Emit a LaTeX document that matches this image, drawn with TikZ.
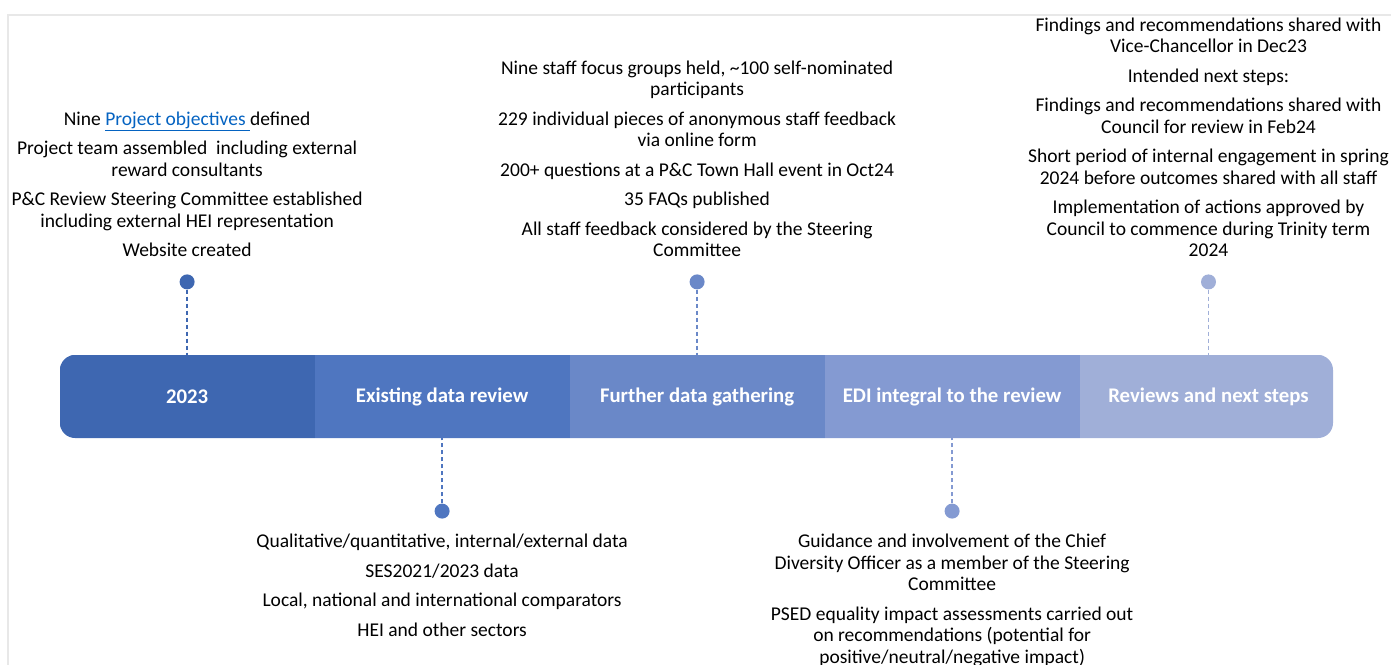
\documentclass[tikz,border=0pt]{standalone}
\usepackage{fontspec}
\setmainfont{Carlito}
\usepackage{tikz}
\usetikzlibrary{positioning,calc}
\usepackage{xcolor}

\definecolor{phaseA}{RGB}{62,103,177}
\definecolor{phaseB}{RGB}{79,118,192}
\definecolor{phaseC}{RGB}{106,136,200}
\definecolor{phaseD}{RGB}{132,154,210}
\definecolor{phaseE}{RGB}{160,175,216}
\definecolor{linkblue}{RGB}{5,99,193}
\definecolor{framegray}{RGB}{232,232,232}

\begin{document}
\begin{tikzpicture}[x=1pt, y=-1pt,
    phase/.style={rectangle, minimum width=254.2pt, minimum height=83pt, inner sep=0pt,
        fill=#1, draw=#1, line width=0.8pt,
        text=white, font=\fontsize{20.8}{24}\selectfont\bfseries},
    dot/.style={circle, inner sep=0pt, minimum size=15pt},
    stem/.style={dash pattern=on 4pt off 3pt, line width=1.4pt},
    note/.style={align=center, inner sep=0pt, font=\fontsize{19.5}{21.5}\selectfont}]

    \useasboundingbox (0,0) rectangle (1391,664);

    % =========================================================================
    % Frame
    % =========================================================================
    \draw[framegray, line width=1.5pt] (8,700) -- (8,15) -- (1400,15);

    % =========================================================================
    % Timeline bar
    % =========================================================================
    \begin{scope}
        \clip[rounded corners=15pt] (60,355) rectangle (1333,438);
        \node[phase=phaseA] (p1) at (187.1,396.5) {2023};
        \node[phase=phaseB, right=0pt of p1] (p2) {Existing data review};
        \node[phase=phaseC, right=0pt of p2] (p3) {Further data gathering};
        \node[phase=phaseD, right=0pt of p3] (p4) {EDI integral to the review};
        \node[phase=phaseE, right=0pt of p4, minimum width=257pt] (p5) {Reviews and next steps};
    \end{scope}

    % =========================================================================
    % Milestone dots and stems
    % =========================================================================
    \node[dot, fill=phaseA, above=65pt of p1] (m1) {};
    \node[dot, fill=phaseC, above=65pt of p3] (m3) {};
    \node[dot, fill=phaseE, above=65pt of p5] (m5) {};
    \node[dot, fill=phaseB, below=65pt of p2] (m2) {};
    \node[dot, fill=phaseD, below=65pt of p4] (m4) {};

    \draw[stem, phaseA] (m1) -- (p1);
    \draw[stem, phaseC] (m3) -- (p3);
    \draw[stem, phaseE] (m5) -- (p5);
    \draw[stem, phaseB] (m2) -- (p2);
    \draw[stem, phaseD] (m4) -- (p4);

    % =========================================================================
    % Notes above the bar
    % =========================================================================
    \node[note, above=17pt of m1] (n1) {Nine \textcolor{linkblue}{\underline{Project objectives\ }}defined\\[8pt]
        Project team assembled\ \ including external\\ reward consultants\\[8pt]
        P\&C Review Steering Committee established\\ including external HEI representation\\[8pt]
        Website created};

    \node[note, above=17pt of m3] (n3) {Nine staff focus groups held, \textasciitilde100 self-nominated\\ participants\\[8pt]
        229 individual pieces of anonymous staff feedback\\ via online form\\[8pt]
        200+ questions at a P\&C Town Hall event in Oct24\\[8pt]
        35 FAQs published\\[8pt]
        All staff feedback considered by the Steering\\ Committee};

    \node[note, above=17pt of m5] (n5) {Findings and recommendations shared with\\ Vice-Chancellor in Dec23\\[8pt]
        Intended next steps:\\[8pt]
        Findings and recommendations shared with\\ Council for review in Feb24\\[8pt]
        Short period of internal engagement in spring\\ 2024 before outcomes shared with all staff\\[8pt]
        Implementation of actions approved by\\ Council to commence during Trinity term\\ 2024};

    % =========================================================================
    % Notes below the bar
    % =========================================================================
    \node[note, below=15pt of m2] (n2) {Qualitative/quantitative, internal/external data\\[8pt]
        SES2021/2023 data\\[8pt]
        Local, national and international comparators\\[8pt]
        HEI and other sectors};

    \node[note, below=15pt of m4] (n4) {Guidance and involvement of the Chief\\ Diversity Officer as a member of the Steering\\ Committee\\[8pt]
        PSED equality impact assessments carried out\\ on recommendations (potential for\\ positive/neutral/negative impact)};

\end{tikzpicture}
\end{document}
